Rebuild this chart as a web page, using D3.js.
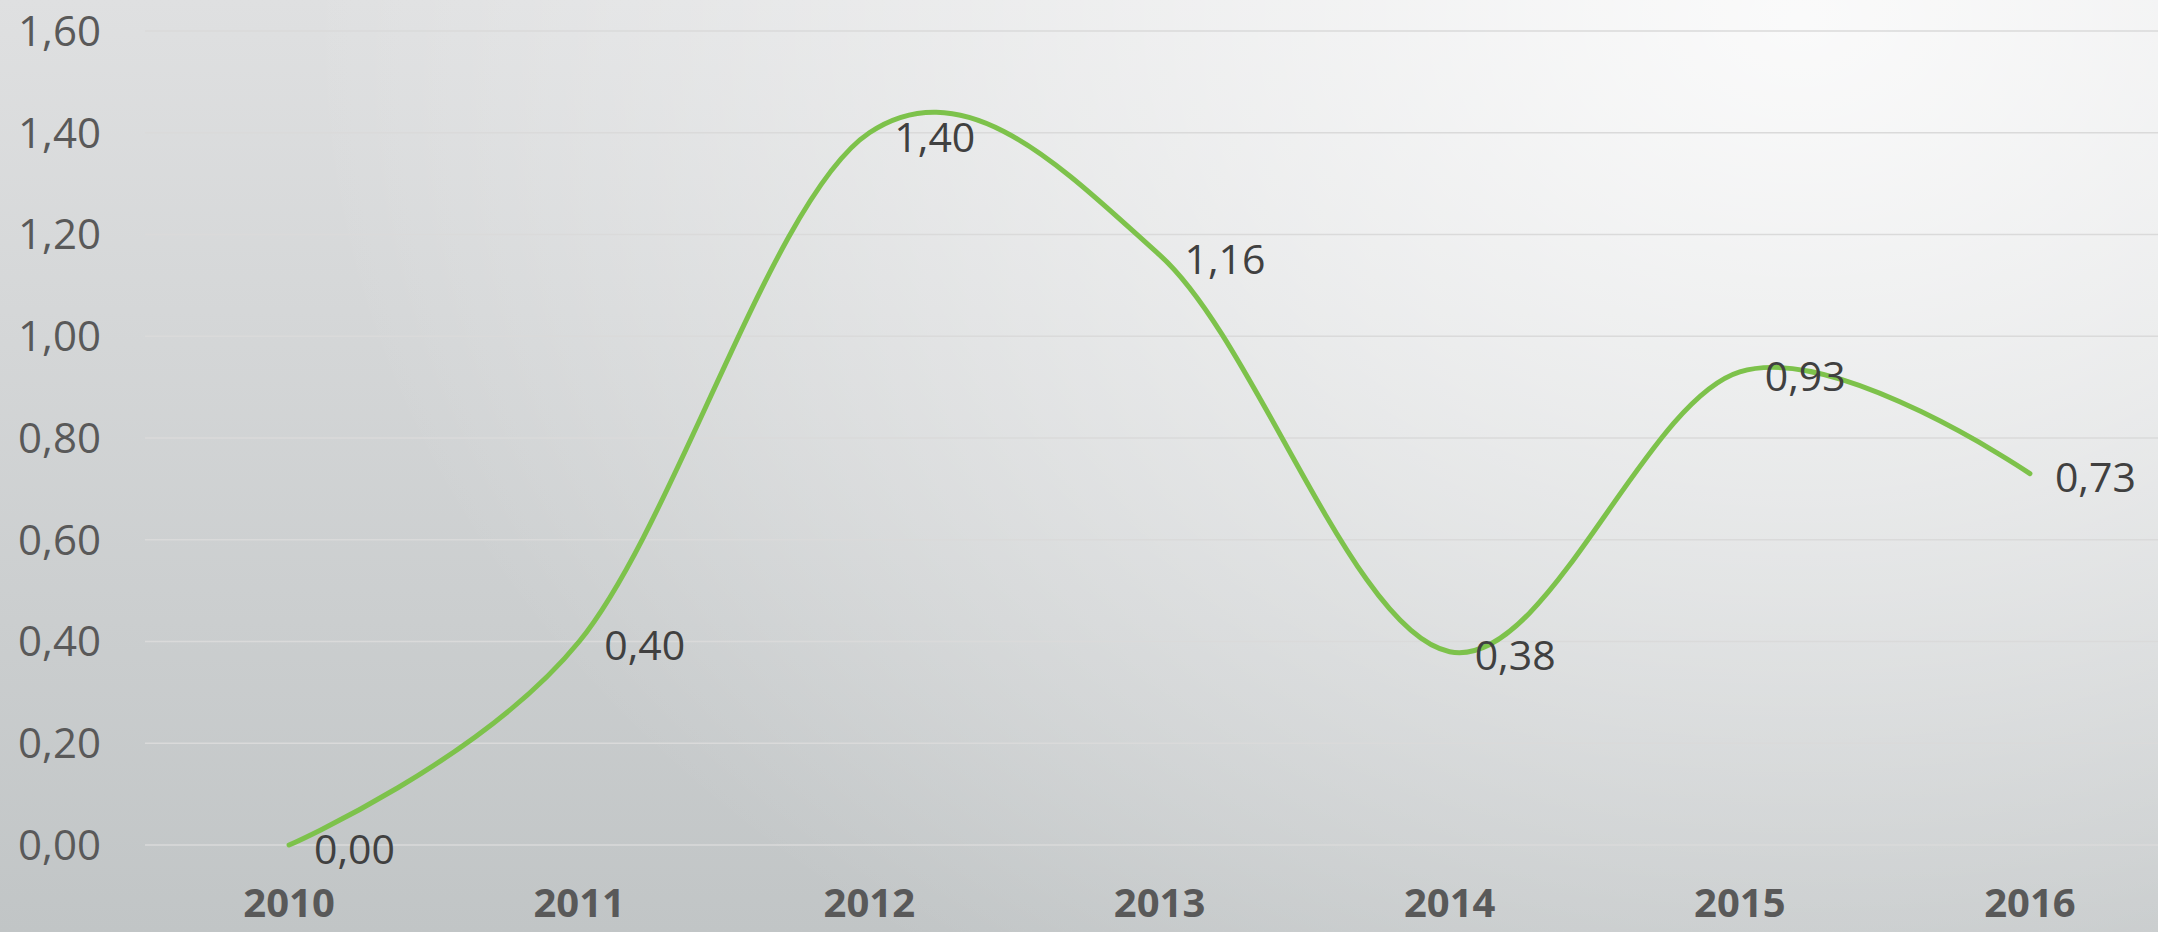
<!DOCTYPE html>
<html>
<head>
<meta charset="utf-8">
<script src="https://cdn.jsdelivr.net/npm/d3@7"></script>
<style>
  html, body { margin: 0; padding: 0; overflow: hidden; background: #d5d7d8; }
  svg { display: block; }
</style>
</head>
<body>
<svg id="chart" width="2158" height="932"></svg>
<script>
const years = ["2010", "2011", "2012", "2013", "2014", "2015", "2016"];
const values = [0.00, 0.40, 1.40, 1.16, 0.38, 0.93, 0.73];
const yTicks = [0, 0.2, 0.4, 0.6, 0.8, 1.0, 1.2, 1.4, 1.6];

const W = 2158, H = 932;
const svg = d3.select("#chart");
const defs = svg.append("defs");

const lin = defs.append("linearGradient").attr("id", "bgLin")
  .attr("x1", 0).attr("y1", 0).attr("x2", 0).attr("y2", 1);
lin.append("stop").attr("offset", "0").attr("stop-color", "#dfe0e1");
lin.append("stop").attr("offset", "1").attr("stop-color", "#c1c5c6");

const rad = defs.append("radialGradient").attr("id", "bgRad")
  .attr("gradientUnits", "userSpaceOnUse")
  .attr("cx", 0).attr("cy", 0).attr("r", 1)
  .attr("gradientTransform", "translate(1800,20) scale(1500,1150)");
rad.append("stop").attr("offset", "0").attr("stop-color", "#ffffff").attr("stop-opacity", 0.85);
rad.append("stop").attr("offset", "0.5").attr("stop-color", "#ffffff").attr("stop-opacity", 0.45);
rad.append("stop").attr("offset", "1").attr("stop-color", "#ffffff").attr("stop-opacity", 0);

svg.append("rect").attr("width", W).attr("height", H).attr("fill", "url(#bgLin)");
svg.append("rect").attr("width", W).attr("height", H).attr("fill", "url(#bgRad)");

const x = d3.scaleBand().domain(years).range([144, 2175]).padding(0);
const y = d3.scaleLinear().domain([0, 1.6]).range([845, 31]);
const fmt = v => d3.format(".2f")(v).replace(".", ",");

// gridlines
svg.append("g").selectAll("line").data(yTicks).join("line")
  .attr("x1", 145).attr("x2", W)
  .attr("y1", d => y(d)).attr("y2", d => y(d))
  .attr("stroke", "#dadada").attr("stroke-width", 1.5);

// y axis
const yAxis = d3.axisLeft(y).tickValues(yTicks).tickFormat(fmt).tickSize(0).tickPadding(0);
const gy = svg.append("g").attr("transform", "translate(101,0)").call(yAxis);
gy.select(".domain").remove();
gy.selectAll("text")
  .attr("font-family", "'Open Sans', sans-serif")
  .attr("font-size", 42)
  .attr("fill", "#595959")
  .attr("dy", "0.34em");

// x axis
const xAxis = d3.axisBottom(x).tickSize(0).tickPadding(0);
const gx = svg.append("g").attr("transform", "translate(0,880)").call(xAxis);
gx.select(".domain").remove();
gx.selectAll("text")
  .attr("font-family", "'Open Sans', sans-serif")
  .attr("font-size", 40)
  .attr("font-weight", "bold")
  .attr("fill", "#595959")
  .attr("dy", "0.92em");

// line
const cx = d => x(d.year) + x.bandwidth() / 2;
const data = years.map((yr, i) => ({ year: yr, value: values[i] }));
const line = d3.line().x(cx).y(d => y(d.value)).curve(d3.curveCardinal.tension(0));
svg.append("path").datum(data)
  .attr("d", line)
  .attr("fill", "none")
  .attr("stroke", "#7dc24b")
  .attr("stroke-width", 5)
  .attr("stroke-linecap", "round");

// data labels
svg.append("g").selectAll("text").data(data).join("text")
  .attr("x", d => cx(d) + 25)
  .attr("y", d => y(d.value) + 4)
  .attr("dy", "0.36em")
  .attr("font-family", "'Open Sans', sans-serif")
  .attr("font-size", 41)
  .attr("fill", "#404040")
  .text(d => fmt(d.value));
</script>
</body>
</html>
